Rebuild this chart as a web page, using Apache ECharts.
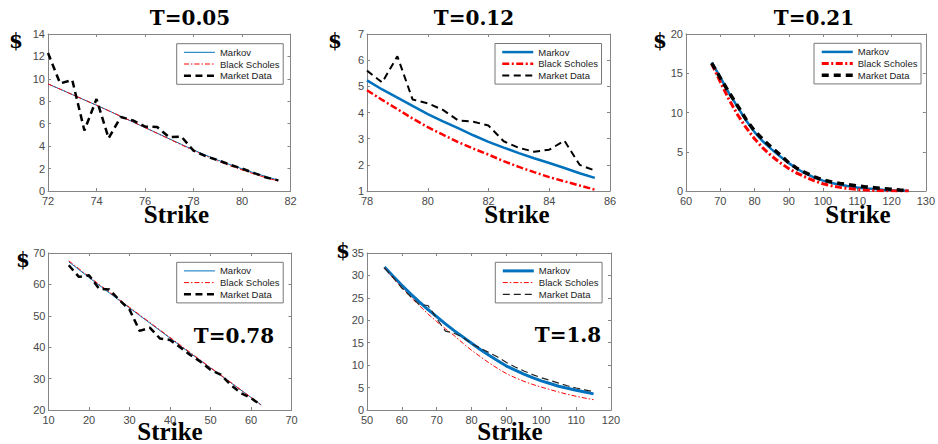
<!DOCTYPE html>
<html><head><meta charset="utf-8">
<script src="https://cdn.jsdelivr.net/npm/echarts@6/dist/echarts.min.js"></script>
<style>html,body{margin:0;padding:0;background:#fff}#c{width:938px;height:444px}</style>
</head><body><div id="c"></div>
<script>
// ---------- DATA ----------
const seriesNames = ['Markov', 'Black Scholes', 'Market Data'];
const titles = ['T=0.05', 'T=0.12', 'T=0.21', 'T=0.78', 'T=1.8'];
const xLabel = 'Strike';
const yLabel = '$';

const xTicks1 = [72, 82, 2], yTicks1 = [0, 14, 2];
const strikes1 = [72, 72.5, 73, 73.5, 74, 74.5, 75, 75.5, 76, 76.5, 77, 77.5, 78, 78.5, 79, 79.5, 80, 80.5, 81, 81.5];
const markov1 = [9.55, 9.08, 8.6, 8.12, 7.65, 7.16, 6.66, 6.16, 5.66, 5.16, 4.66, 4.16, 3.66, 3.2, 2.76, 2.36, 1.98, 1.62, 1.28, 0.97];
const bs1     = [9.55, 9.08, 8.6, 8.12, 7.65, 7.16, 6.66, 6.16, 5.65, 5.14, 4.63, 4.12, 3.62, 3.14, 2.68, 2.26, 1.88, 1.52, 1.18, 0.88];
const market1 = [12.3, 9.6, 9.9, 5.4, 8.2, 4.7, 6.6, 6.3, 5.75, 5.7, 4.8, 4.85, 3.6, 3.1, 2.75, 2.35, 2.0, 1.6, 1.2, 0.95];

const xTicks2 = [78, 86, 2], yTicks2 = [1, 7, 1];
const strikes2 = [78, 78.5, 79, 79.5, 80, 80.5, 81, 81.5, 82, 82.5, 83, 83.5, 84, 84.5, 85, 85.5];
const markov2 = [5.23, 4.88, 4.57, 4.25, 3.94, 3.66, 3.4, 3.13, 2.88, 2.66, 2.45, 2.25, 2.07, 1.88, 1.68, 1.5];
const bs2     = [4.85, 4.48, 4.13, 3.77, 3.44, 3.15, 2.87, 2.62, 2.39, 2.14, 1.92, 1.72, 1.53, 1.37, 1.21, 1.05];
const market2 = [5.6, 5.15, 6.15, 4.5, 4.35, 4.1, 3.7, 3.65, 3.5, 2.9, 2.65, 2.5, 2.58, 2.92, 2.0, 1.78];

const xTicks3 = [60, 130, 10], yTicks3 = [0, 20, 5];
const strikes3 = [67.5, 70, 72.5, 75, 77.5, 80, 82.5, 85, 87.5, 90, 92.5, 95, 97.5, 100, 102.5, 105, 107.5, 110, 112.5, 115, 117.5, 120, 122.5, 125];
const markov3 = [16.4, 14.5, 12.5, 10.75, 9.0, 7.5, 6.3, 5.3, 4.4, 3.55, 2.8, 2.2, 1.7, 1.32, 1.03, 0.8, 0.6, 0.45, 0.33, 0.24, 0.16, 0.1, 0.05, 0.02];
const bs3     = [16.2, 13.9, 11.7, 9.75, 8.1, 6.65, 5.45, 4.45, 3.6, 2.85, 2.25, 1.75, 1.3, 0.92, 0.66, 0.46, 0.31, 0.2, 0.12, 0.07, 0.04, 0.02, 0.01, 0.0];
const market3 = [16.3, 14.4, 12.6, 10.9, 9.15, 7.65, 6.55, 5.55, 4.6, 3.6, 2.85, 2.3, 1.8, 1.4, 1.15, 0.95, 0.8, 0.65, 0.52, 0.42, 0.32, 0.22, 0.12, 0.05];

const xTicks4 = [10, 70, 10], yTicks4 = [20, 70, 10];
const strikes4 = [15, 17.5, 20, 22.5, 25, 27.5, 30, 32.5, 35, 37.5, 40, 42.5, 45, 47.5, 50, 52.5, 55, 57.5, 60, 62.5];
const markov4 = [67.2, 64.7, 62.2, 59.75, 57.3, 54.9, 52.5, 50.1, 47.7, 45.3, 42.9, 40.5, 38.1, 35.75, 33.4, 31.05, 28.7, 26.35, 24.0, 21.6];
const bs4     = [67.5, 65.0, 62.45, 60.0, 57.55, 55.1, 52.7, 50.3, 47.9, 45.5, 43.1, 40.7, 38.3, 35.9, 33.5, 31.15, 28.8, 26.4, 24.0, 21.6];
const market4 = [66.1, 62.4, 62.9, 58.6, 58.4, 55.0, 52.0, 45.2, 46.2, 42.8, 42.3, 40.0, 37.5, 35.4, 32.8, 31.3, 28.0, 25.4, 23.8, 21.5];

const xTicks5 = [50, 120, 10], yTicks5 = [0, 35, 5];
const strikes5 = [55, 57.5, 60, 62.5, 65, 67.5, 70, 72.5, 75, 77.5, 80, 82.5, 85, 87.5, 90, 92.5, 95, 97.5, 100, 102.5, 105, 107.5, 110, 112.5, 115];
const markov5 = [31.9, 29.8, 27.8, 25.9, 24.1, 22.4, 20.8, 19.2, 17.7, 16.3, 14.9, 13.5, 12.2, 11.0, 9.8, 8.9, 8.0, 7.2, 6.5, 5.9, 5.3, 4.85, 4.4, 4.0, 3.6];
const bs5     = [31.7, 29.4, 27.3, 25.2, 23.3, 21.4, 19.7, 18.1, 16.6, 14.9, 13.3, 11.9, 10.5, 9.25, 8.1, 7.2, 6.4, 5.7, 5.1, 4.55, 4.0, 3.5, 3.05, 2.65, 2.3];
const market5 = [31.7, 29.5, 27.2, 25.3, 23.5, 23.3, 20.4, 17.6, 17.1, 16.2, 14.8, 13.8, 12.8, 11.8, 10.6, 9.6, 8.7, 7.9, 7.2, 6.6, 6.0, 5.4, 4.9, 4.5, 4.1];

// ---------- LAYOUT / STYLE ----------
const BLUE = '#0072BD', RED = '#FF0000', BLACK = '#000000';
const panels = [
  { grid: {left: 48, top: 34, width: 242.5, height: 157}, xt: xTicks1, yt: yTicks1, s: strikes1, d: [markov1, bs1, market1],
    st: [{w: 1, c: BLUE, t: 'solid'}, {w: 1, c: RED, t: [5, 2, 1.5, 2]}, {w: 2.5, c: BLACK, t: [7, 4.5]}],
    leg: [176.7, 43.7], title: [190, 17.8], dollar: [16, 41], strike: [176.5, 214] },
  { grid: {left: 367, top: 34, width: 243, height: 157}, xt: xTicks2, yt: yTicks2, s: strikes2, d: [markov2, bs2, market2],
    st: [{w: 2.5, c: BLUE, t: 'solid'}, {w: 2.5, c: RED, t: [7, 2.5, 2, 2.5]}, {w: 2, c: BLACK, t: [7, 4.5]}],
    leg: [495, 43.5], title: [474, 17.8], dollar: [335, 41], strike: [517, 214] },
  { grid: {left: 686, top: 34, width: 242, height: 157}, xt: xTicks3, yt: yTicks3, s: strikes3, d: [markov3, bs3, market3],
    st: [{w: 2.5, c: BLUE, t: 'solid'}, {w: 3, c: RED, t: [7, 2.5, 2, 2.5]}, {w: 3.5, c: BLACK, t: [7, 5]}],
    leg: [814, 43.3], title: [814, 17.8], dollar: [660, 40.5], strike: [858, 214] },
  { grid: {left: 48.5, top: 253, width: 243, height: 157}, xt: xTicks4, yt: yTicks4, s: strikes4, d: [markov4, bs4, market4],
    st: [{w: 1, c: BLUE, t: 'solid'}, {w: 1, c: RED, t: [5, 2, 1.5, 2]}, {w: 2.5, c: BLACK, t: [7, 4.5]}],
    leg: [176.7, 262.3], title: [234, 335.5], dollar: [23, 260], strike: [170, 431] },
  { grid: {left: 367, top: 253, width: 244, height: 157}, xt: xTicks5, yt: yTicks5, s: strikes5, d: [markov5, bs5, market5],
    st: [{w: 3, c: BLUE, t: 'solid'}, {w: 1, c: RED, t: [5, 2, 1.5, 2]}, {w: 1.2, c: '#222', t: [7, 4]}],
    leg: [495.3, 262.3], title: [568, 335], dollar: [343, 250.5], strike: [510, 431.5] }
];

const FRAME = '#858585', LABEL = '#484848';
const grids = [], xAxes = [], yAxes = [], series = [], legends = [], graphics = [];

function axisCommon(min, max, interval, showLabel, margin) {
  return {
    type: 'value', min: min, max: max, interval: interval,
    axisLine: {show: true, onZero: false, lineStyle: {color: FRAME, width: 1}},
    axisTick: {show: true, inside: true, length: 3, lineStyle: {color: FRAME, width: 1}},
    splitLine: {show: false},
    axisLabel: {show: showLabel, color: LABEL, fontSize: 11, lineHeight: 11, fontFamily: 'Liberation Sans', margin: margin,
      showMinLabel: true, showMaxLabel: true}
  };
}

panels.forEach((p, i) => {
  grids.push(Object.assign({containLabel: false, show: false}, p.grid));
  xAxes.push(Object.assign(axisCommon(p.xt[0], p.xt[1], p.xt[2], true, 4), {gridIndex: i, position: 'bottom'}));
  xAxes.push(Object.assign(axisCommon(p.xt[0], p.xt[1], p.xt[2], false, 4), {gridIndex: i, position: 'top'}));
  yAxes.push(Object.assign(axisCommon(p.yt[0], p.yt[1], p.yt[2], true, 3), {gridIndex: i, position: 'left'}));
  yAxes.push(Object.assign(axisCommon(p.yt[0], p.yt[1], p.yt[2], false, 3), {gridIndex: i, position: 'right'}));
  const legData = [];
  seriesNames.forEach((nm, k) => {
    const full = nm + '|' + i;
    legData.push({name: full, itemStyle: {opacity: 0},
      lineStyle: {color: p.st[k].c, width: p.st[k].w, type: p.st[k].t, cap: 'butt', opacity: 1}});
    series.push({
      type: 'line', name: full, xAxisIndex: 2 * i, yAxisIndex: 2 * i,
      data: p.s.map((x, j) => [x, p.d[k][j]]),
      symbol: 'none', showSymbol: false, animation: false, silent: true, z: 2 + k,
      lineStyle: {color: p.st[k].c, width: p.st[k].w, type: p.st[k].t, cap: 'butt'},
      itemStyle: {color: p.st[k].c}
    });
  });
  legends.push({
    data: legData, orient: 'vertical', left: p.leg[0], top: p.leg[1],
    padding: [3.6, 3.6, 3.6, 6], itemWidth: 31, itemHeight: 10, itemGap: 1.7,
    borderColor: '#777', borderWidth: 1, backgroundColor: '#fff', selectedMode: false,
    itemStyle: {opacity: 0},
    textStyle: {fontSize: 9.5, fontFamily: 'Liberation Sans', color: '#222', lineHeight: 10},
    formatter: (n) => n.split('|')[0]
  });
  graphics.push({type: 'text', x: p.title[0], y: p.title[1], silent: true,
    style: {text: titles[i], fontSize: 20, lineHeight: 18, fontFamily: 'DejaVu Serif', fontWeight: 'bold', fill: '#000', align: 'center', verticalAlign: 'middle'}});
  graphics.push({type: 'text', x: p.dollar[0], y: p.dollar[1], silent: true,
    style: {text: yLabel, fontSize: 20, lineHeight: 18, fontFamily: 'DejaVu Serif', fontWeight: 'bold', fill: '#000', align: 'center', verticalAlign: 'middle'}});
  graphics.push({type: 'text', x: p.strike[0], y: p.strike[1], silent: true,
    style: {text: xLabel, fontSize: 25, lineHeight: 17, fontFamily: 'Liberation Serif', fontWeight: 'bold', fill: '#000', align: 'center', verticalAlign: 'middle'}});
});

const chart = echarts.init(document.getElementById('c'), null, {renderer: 'svg', width: 938, height: 444});
chart.setOption({
  backgroundColor: '#fff', animation: false,
  grid: grids, xAxis: xAxes, yAxis: yAxes, series: series, legend: legends, graphic: graphics
});
</script></body></html>
